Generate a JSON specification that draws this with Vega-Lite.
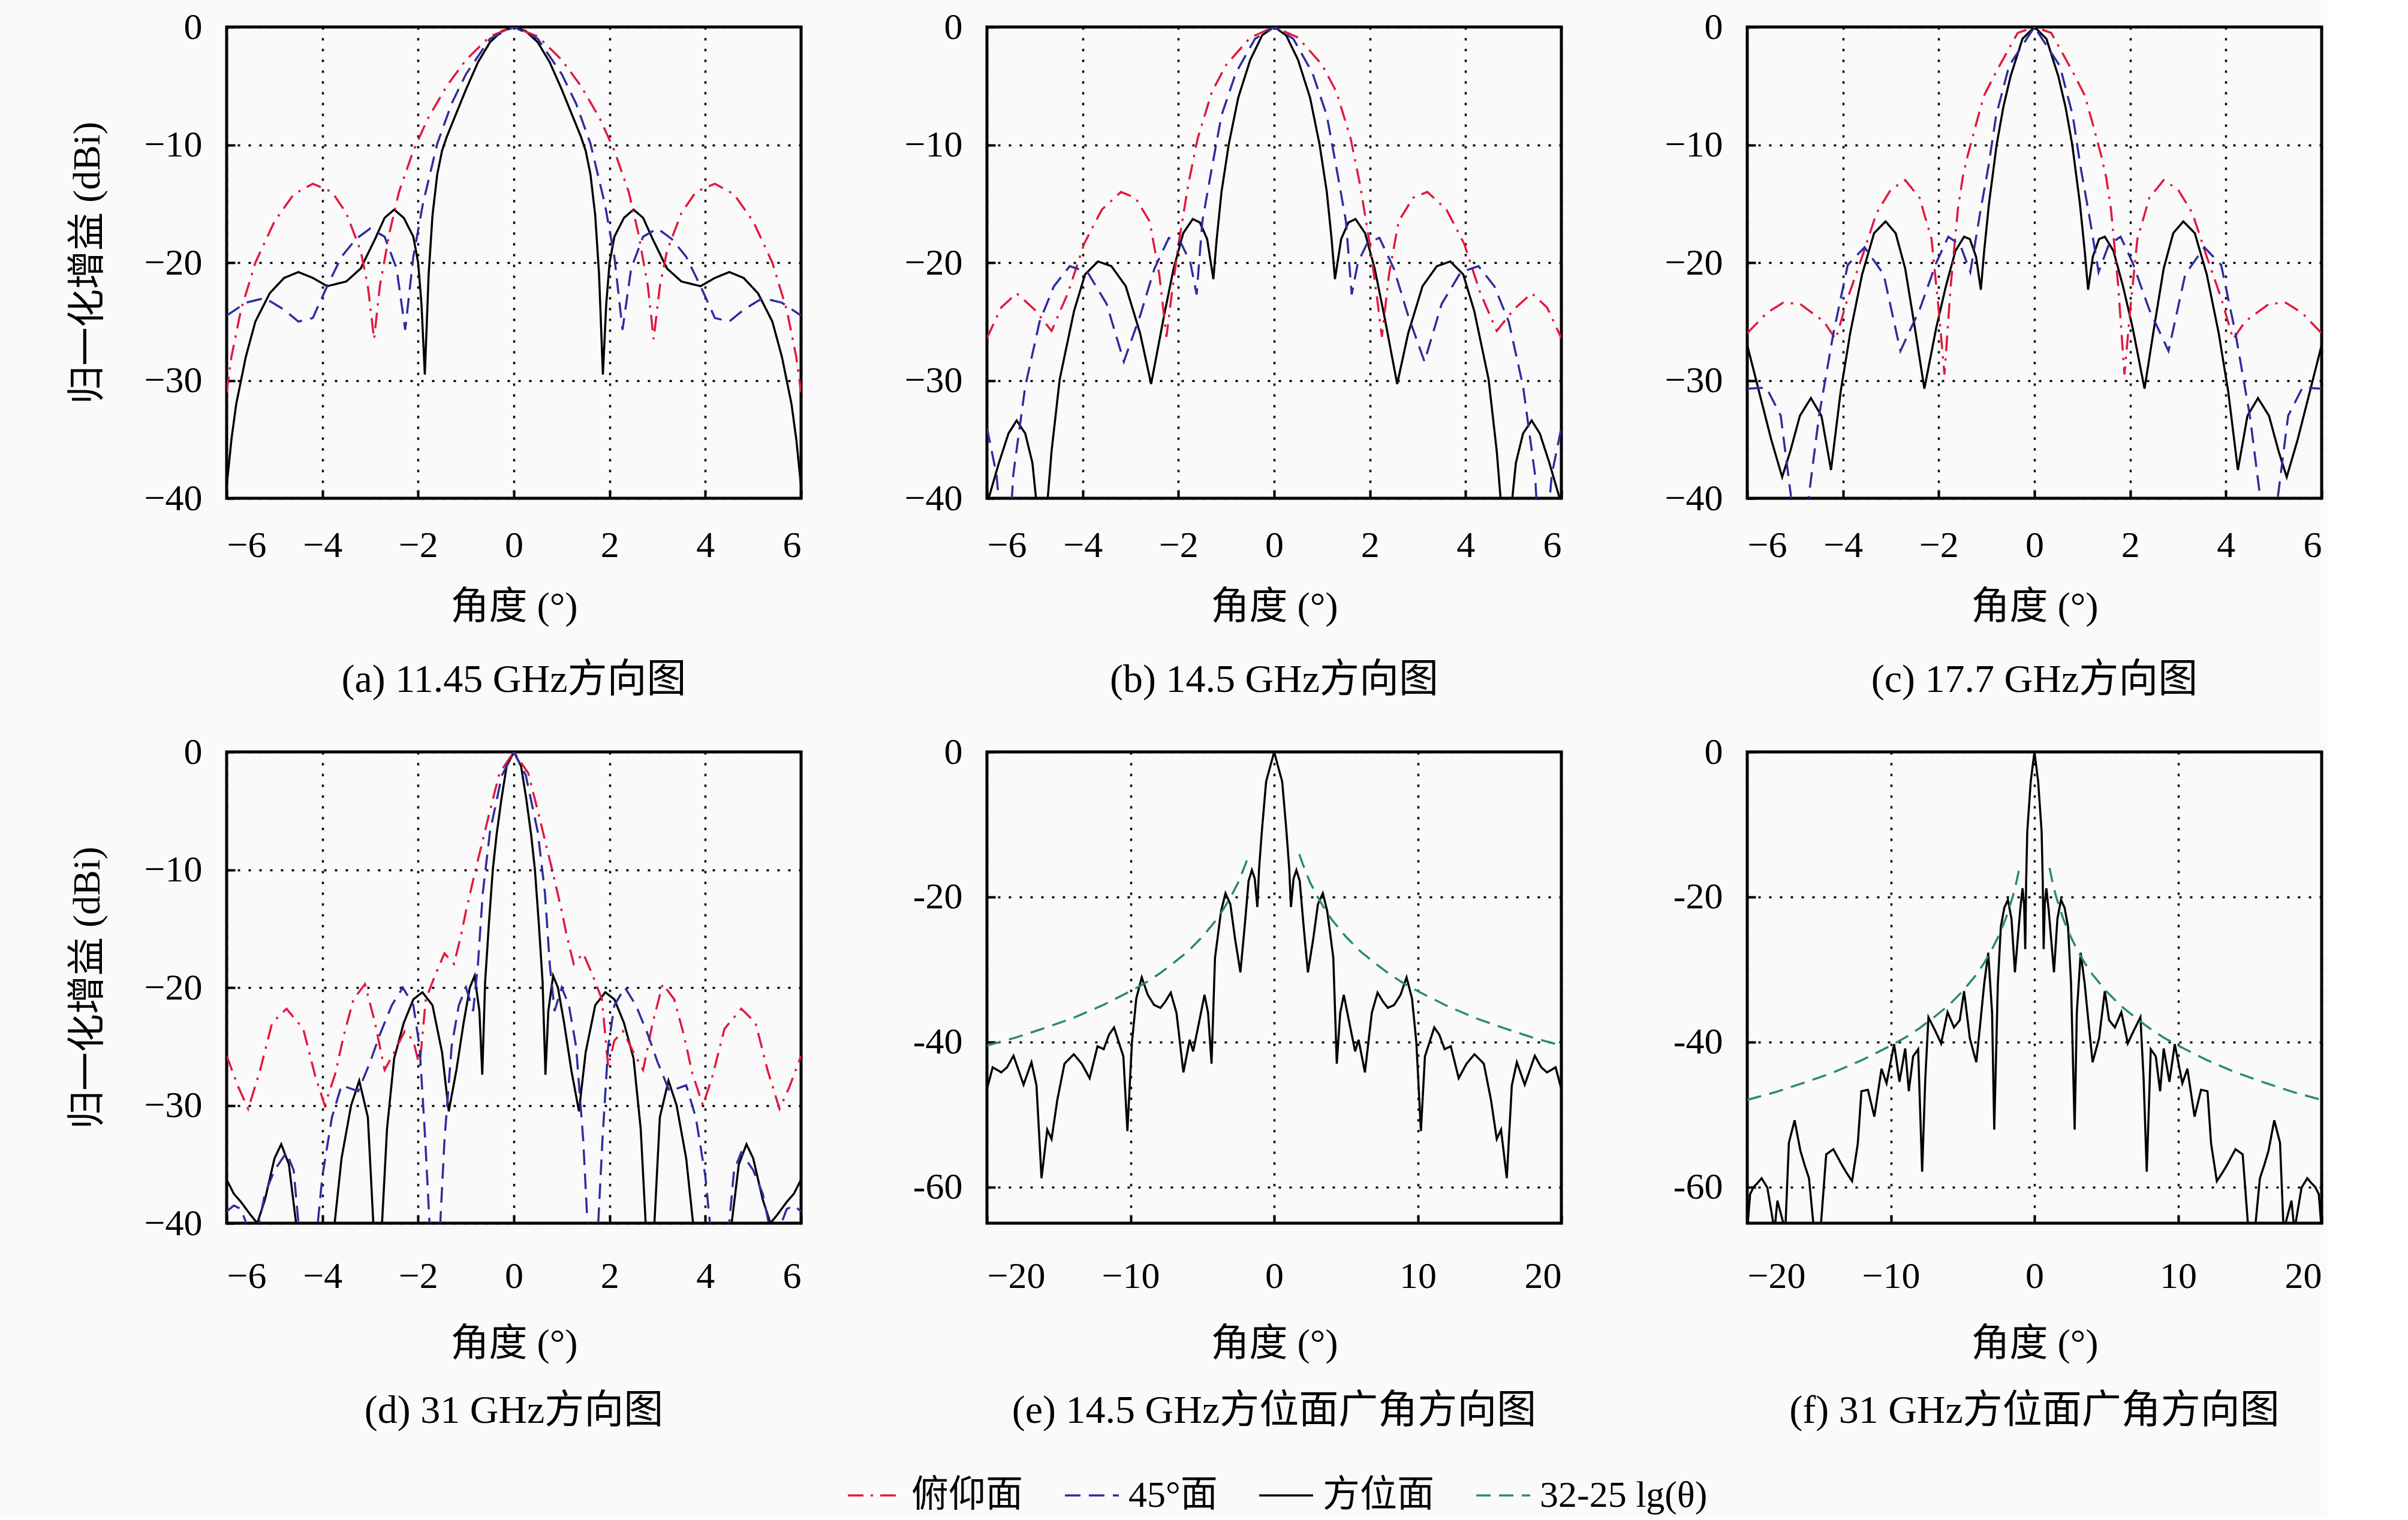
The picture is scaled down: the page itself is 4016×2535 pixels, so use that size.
{
"$schema":"https://vega.github.io/schema/vega-lite/v6.json",
"background":"#fafafa",
"padding":{"left":111,"top":11,"right":5,"bottom":5},
"datasets":{
"a":[
{"s":"方位面","x":0,"y":0},
{"s":"方位面","x":0.25,"y":-0.35},{"s":"方位面","x":-0.25,"y":-0.35},
{"s":"方位面","x":0.5,"y":-1.3},{"s":"方位面","x":-0.5,"y":-1.3},
{"s":"方位面","x":0.75,"y":-3},{"s":"方位面","x":-0.75,"y":-3},
{"s":"方位面","x":1,"y":-5.3},{"s":"方位面","x":-1,"y":-5.3},
{"s":"方位面","x":1.25,"y":-7.8},{"s":"方位面","x":-1.25,"y":-7.8},
{"s":"方位面","x":1.4,"y":-9.3},{"s":"方位面","x":-1.4,"y":-9.3},
{"s":"方位面","x":1.5,"y":-10.5},{"s":"方位面","x":-1.5,"y":-10.5},
{"s":"方位面","x":1.6,"y":-12.5},{"s":"方位面","x":-1.6,"y":-12.5},
{"s":"方位面","x":1.7,"y":-16},{"s":"方位面","x":-1.7,"y":-16},
{"s":"方位面","x":1.78,"y":-21},{"s":"方位面","x":-1.78,"y":-21},
{"s":"方位面","x":1.86,"y":-29.5},{"s":"方位面","x":-1.86,"y":-29.5},
{"s":"方位面","x":1.93,"y":-23.5},{"s":"方位面","x":-1.93,"y":-23.5},
{"s":"方位面","x":2,"y":-20},{"s":"方位面","x":-2,"y":-20},
{"s":"方位面","x":2.1,"y":-17.8},{"s":"方位面","x":-2.1,"y":-17.8},
{"s":"方位面","x":2.3,"y":-16.2},{"s":"方位面","x":-2.3,"y":-16.2},
{"s":"方位面","x":2.5,"y":-15.5},{"s":"方位面","x":-2.5,"y":-15.5},
{"s":"方位面","x":2.7,"y":-16.2},{"s":"方位面","x":-2.7,"y":-16.2},
{"s":"方位面","x":2.9,"y":-18},{"s":"方位面","x":-2.9,"y":-18},
{"s":"方位面","x":3.2,"y":-20.5},{"s":"方位面","x":-3.2,"y":-20.5},
{"s":"方位面","x":3.5,"y":-21.6},{"s":"方位面","x":-3.5,"y":-21.6},
{"s":"方位面","x":3.9,"y":-22},{"s":"方位面","x":-3.9,"y":-22},
{"s":"方位面","x":4.2,"y":-21.3},{"s":"方位面","x":-4.2,"y":-21.3},
{"s":"方位面","x":4.5,"y":-20.8},{"s":"方位面","x":-4.5,"y":-20.8},
{"s":"方位面","x":4.8,"y":-21.3},{"s":"方位面","x":-4.8,"y":-21.3},
{"s":"方位面","x":5.1,"y":-22.6},{"s":"方位面","x":-5.1,"y":-22.6},
{"s":"方位面","x":5.4,"y":-25},{"s":"方位面","x":-5.4,"y":-25},
{"s":"方位面","x":5.6,"y":-28},{"s":"方位面","x":-5.6,"y":-28},
{"s":"方位面","x":5.8,"y":-32},{"s":"方位面","x":-5.8,"y":-32},
{"s":"方位面","x":5.9,"y":-35},{"s":"方位面","x":-5.9,"y":-35},
{"s":"方位面","x":6,"y":-39},{"s":"方位面","x":-6,"y":-39},
{"s":"俯仰面","x":0,"y":0},
{"s":"俯仰面","x":0.5,"y":-0.8},{"s":"俯仰面","x":-0.5,"y":-0.8},
{"s":"俯仰面","x":1,"y":-2.8},{"s":"俯仰面","x":-1,"y":-2.8},
{"s":"俯仰面","x":1.4,"y":-5},{"s":"俯仰面","x":-1.4,"y":-5},
{"s":"俯仰面","x":1.8,"y":-7.8},{"s":"俯仰面","x":-1.8,"y":-7.8},
{"s":"俯仰面","x":2.1,"y":-10.5},{"s":"俯仰面","x":-2.1,"y":-10.5},
{"s":"俯仰面","x":2.4,"y":-14},{"s":"俯仰面","x":-2.4,"y":-14},
{"s":"俯仰面","x":2.6,"y":-17.5},{"s":"俯仰面","x":-2.6,"y":-17.5},
{"s":"俯仰面","x":2.8,"y":-22},{"s":"俯仰面","x":-2.8,"y":-22},
{"s":"俯仰面","x":2.92,"y":-26.5},{"s":"俯仰面","x":-2.92,"y":-26.5},
{"s":"俯仰面","x":3.05,"y":-22},{"s":"俯仰面","x":-3.05,"y":-22},
{"s":"俯仰面","x":3.2,"y":-19},{"s":"俯仰面","x":-3.2,"y":-19},
{"s":"俯仰面","x":3.5,"y":-15.8},{"s":"俯仰面","x":-3.5,"y":-15.8},
{"s":"俯仰面","x":3.8,"y":-14},{"s":"俯仰面","x":-3.8,"y":-14},
{"s":"俯仰面","x":4.2,"y":-13.3},{"s":"俯仰面","x":-4.2,"y":-13.3},
{"s":"俯仰面","x":4.6,"y":-14.2},{"s":"俯仰面","x":-4.6,"y":-14.2},
{"s":"俯仰面","x":5,"y":-16.5},{"s":"俯仰面","x":-5,"y":-16.5},
{"s":"俯仰面","x":5.4,"y":-20},{"s":"俯仰面","x":-5.4,"y":-20},
{"s":"俯仰面","x":5.7,"y":-24},{"s":"俯仰面","x":-5.7,"y":-24},
{"s":"俯仰面","x":5.9,"y":-28},{"s":"俯仰面","x":-5.9,"y":-28},
{"s":"俯仰面","x":6,"y":-31},{"s":"俯仰面","x":-6,"y":-31},
{"s":"45°面","x":0,"y":0},
{"s":"45°面","x":0.5,"y":-1},{"s":"45°面","x":-0.5,"y":-1},
{"s":"45°面","x":1,"y":-4},{"s":"45°面","x":-1,"y":-4},
{"s":"45°面","x":1.3,"y":-6.5},{"s":"45°面","x":-1.3,"y":-6.5},
{"s":"45°面","x":1.6,"y":-9.9},{"s":"45°面","x":-1.6,"y":-9.9},
{"s":"45°面","x":1.9,"y":-15},{"s":"45°面","x":-1.9,"y":-15},
{"s":"45°面","x":2.1,"y":-19.5},{"s":"45°面","x":-2.1,"y":-19.5},
{"s":"45°面","x":2.27,"y":-25.7},{"s":"45°面","x":-2.27,"y":-25.7},
{"s":"45°面","x":2.45,"y":-20.5},{"s":"45°面","x":-2.45,"y":-20.5},
{"s":"45°面","x":2.7,"y":-17.8},{"s":"45°面","x":-2.7,"y":-17.8},
{"s":"45°面","x":3,"y":-17.1},{"s":"45°面","x":-3,"y":-17.1},
{"s":"45°面","x":3.3,"y":-18},{"s":"45°面","x":-3.3,"y":-18},
{"s":"45°面","x":3.6,"y":-19.5},{"s":"45°面","x":-3.6,"y":-19.5},
{"s":"45°面","x":3.9,"y":-22},{"s":"45°面","x":-3.9,"y":-22},
{"s":"45°面","x":4.2,"y":-24.7},{"s":"45°面","x":-4.2,"y":-24.7},
{"s":"45°面","x":4.5,"y":-25},{"s":"45°面","x":-4.5,"y":-25},
{"s":"45°面","x":4.8,"y":-24},{"s":"45°面","x":-4.8,"y":-24},
{"s":"45°面","x":5.2,"y":-23},{"s":"45°面","x":-5.2,"y":-23},
{"s":"45°面","x":5.6,"y":-23.4},{"s":"45°面","x":-5.6,"y":-23.4},
{"s":"45°面","x":6,"y":-24.5},{"s":"45°面","x":-6,"y":-24.5}
],
"b":[
{"s":"方位面","x":0,"y":0},
{"s":"方位面","x":0.25,"y":-0.7},{"s":"方位面","x":-0.25,"y":-0.7},
{"s":"方位面","x":0.5,"y":-2.8},{"s":"方位面","x":-0.5,"y":-2.8},
{"s":"方位面","x":0.75,"y":-6},{"s":"方位面","x":-0.75,"y":-6},
{"s":"方位面","x":0.95,"y":-10},{"s":"方位面","x":-0.95,"y":-10},
{"s":"方位面","x":1.1,"y":-14},{"s":"方位面","x":-1.1,"y":-14},
{"s":"方位面","x":1.2,"y":-18},{"s":"方位面","x":-1.2,"y":-18},
{"s":"方位面","x":1.27,"y":-21.4},{"s":"方位面","x":-1.27,"y":-21.4},
{"s":"方位面","x":1.4,"y":-18},{"s":"方位面","x":-1.4,"y":-18},
{"s":"方位面","x":1.55,"y":-16.6},{"s":"方位面","x":-1.55,"y":-16.6},
{"s":"方位面","x":1.7,"y":-16.3},{"s":"方位面","x":-1.7,"y":-16.3},
{"s":"方位面","x":1.9,"y":-17.5},{"s":"方位面","x":-1.9,"y":-17.5},
{"s":"方位面","x":2.1,"y":-20.5},{"s":"方位面","x":-2.1,"y":-20.5},
{"s":"方位面","x":2.3,"y":-24.5},{"s":"方位面","x":-2.3,"y":-24.5},
{"s":"方位面","x":2.57,"y":-30.3},{"s":"方位面","x":-2.57,"y":-30.3},
{"s":"方位面","x":2.8,"y":-26},{"s":"方位面","x":-2.8,"y":-26},
{"s":"方位面","x":3.1,"y":-22},{"s":"方位面","x":-3.1,"y":-22},
{"s":"方位面","x":3.4,"y":-20.3},{"s":"方位面","x":-3.4,"y":-20.3},
{"s":"方位面","x":3.68,"y":-19.9},{"s":"方位面","x":-3.68,"y":-19.9},
{"s":"方位面","x":3.95,"y":-21},{"s":"方位面","x":-3.95,"y":-21},
{"s":"方位面","x":4.18,"y":-24.1},{"s":"方位面","x":-4.18,"y":-24.1},
{"s":"方位面","x":4.48,"y":-29.9},{"s":"方位面","x":-4.48,"y":-29.9},
{"s":"方位面","x":4.65,"y":-36},{"s":"方位面","x":-4.65,"y":-36},
{"s":"方位面","x":4.75,"y":-41},{"s":"方位面","x":-4.75,"y":-41},
{"s":"方位面","x":4.82,"y":-46},{"s":"方位面","x":-4.82,"y":-46},
{"s":"方位面","x":4.88,"y":-46},{"s":"方位面","x":-4.88,"y":-46},
{"s":"方位面","x":4.95,"y":-41},{"s":"方位面","x":-4.95,"y":-41},
{"s":"方位面","x":5.05,"y":-37},{"s":"方位面","x":-5.05,"y":-37},
{"s":"方位面","x":5.2,"y":-34.5},{"s":"方位面","x":-5.2,"y":-34.5},
{"s":"方位面","x":5.38,"y":-33.4},{"s":"方位面","x":-5.38,"y":-33.4},
{"s":"方位面","x":5.55,"y":-34.5},{"s":"方位面","x":-5.55,"y":-34.5},
{"s":"方位面","x":5.75,"y":-37},{"s":"方位面","x":-5.75,"y":-37},
{"s":"方位面","x":6,"y":-40.5},{"s":"方位面","x":-6,"y":-40.5},
{"s":"俯仰面","x":0,"y":0},
{"s":"俯仰面","x":0.5,"y":-0.9},{"s":"俯仰面","x":-0.5,"y":-0.9},
{"s":"俯仰面","x":1,"y":-3.2},{"s":"俯仰面","x":-1,"y":-3.2},
{"s":"俯仰面","x":1.3,"y":-5.5},{"s":"俯仰面","x":-1.3,"y":-5.5},
{"s":"俯仰面","x":1.6,"y":-9.5},{"s":"俯仰面","x":-1.6,"y":-9.5},
{"s":"俯仰面","x":1.8,"y":-13.5},{"s":"俯仰面","x":-1.8,"y":-13.5},
{"s":"俯仰面","x":2,"y":-18.5},{"s":"俯仰面","x":-2,"y":-18.5},
{"s":"俯仰面","x":2.15,"y":-23},{"s":"俯仰面","x":-2.15,"y":-23},
{"s":"俯仰面","x":2.25,"y":-26.3},{"s":"俯仰面","x":-2.25,"y":-26.3},
{"s":"俯仰面","x":2.4,"y":-21},{"s":"俯仰面","x":-2.4,"y":-21},
{"s":"俯仰面","x":2.6,"y":-16.5},{"s":"俯仰面","x":-2.6,"y":-16.5},
{"s":"俯仰面","x":2.9,"y":-14.5},{"s":"俯仰面","x":-2.9,"y":-14.5},
{"s":"俯仰面","x":3.2,"y":-14},{"s":"俯仰面","x":-3.2,"y":-14},
{"s":"俯仰面","x":3.6,"y":-15.5},{"s":"俯仰面","x":-3.6,"y":-15.5},
{"s":"俯仰面","x":3.97,"y":-18.4},{"s":"俯仰面","x":-3.97,"y":-18.4},
{"s":"俯仰面","x":4.3,"y":-22.5},{"s":"俯仰面","x":-4.3,"y":-22.5},
{"s":"俯仰面","x":4.65,"y":-25.8},{"s":"俯仰面","x":-4.65,"y":-25.8},
{"s":"俯仰面","x":5,"y":-24},{"s":"俯仰面","x":-5,"y":-24},
{"s":"俯仰面","x":5.38,"y":-22.6},{"s":"俯仰面","x":-5.38,"y":-22.6},
{"s":"俯仰面","x":5.7,"y":-23.8},{"s":"俯仰面","x":-5.7,"y":-23.8},
{"s":"俯仰面","x":6,"y":-26.4},{"s":"俯仰面","x":-6,"y":-26.4},
{"s":"45°面","x":0,"y":0},
{"s":"45°面","x":0.4,"y":-1},{"s":"45°面","x":-0.4,"y":-1},
{"s":"45°面","x":0.8,"y":-3.9},{"s":"45°面","x":-0.8,"y":-3.9},
{"s":"45°面","x":1.1,"y":-7.5},{"s":"45°面","x":-1.1,"y":-7.5},
{"s":"45°面","x":1.33,"y":-12.6},{"s":"45°面","x":-1.33,"y":-12.6},
{"s":"45°面","x":1.5,"y":-16.5},{"s":"45°面","x":-1.5,"y":-16.5},
{"s":"45°面","x":1.62,"y":-22.7},{"s":"45°面","x":-1.62,"y":-22.7},
{"s":"45°面","x":1.75,"y":-20},{"s":"45°面","x":-1.75,"y":-20},
{"s":"45°面","x":1.95,"y":-18.3},{"s":"45°面","x":-1.95,"y":-18.3},
{"s":"45°面","x":2.2,"y":-17.9},{"s":"45°面","x":-2.2,"y":-17.9},
{"s":"45°面","x":2.5,"y":-20.5},{"s":"45°面","x":-2.5,"y":-20.5},
{"s":"45°面","x":2.8,"y":-24.5},{"s":"45°面","x":-2.8,"y":-24.5},
{"s":"45°面","x":3.14,"y":-28.4},{"s":"45°面","x":-3.14,"y":-28.4},
{"s":"45°面","x":3.5,"y":-23.5},{"s":"45°面","x":-3.5,"y":-23.5},
{"s":"45°面","x":3.9,"y":-20.8},{"s":"45°面","x":-3.9,"y":-20.8},
{"s":"45°面","x":4.27,"y":-20.3},{"s":"45°面","x":-4.27,"y":-20.3},
{"s":"45°面","x":4.6,"y":-22},{"s":"45°面","x":-4.6,"y":-22},
{"s":"45°面","x":4.9,"y":-25},{"s":"45°面","x":-4.9,"y":-25},
{"s":"45°面","x":5.2,"y":-30.5},{"s":"45°面","x":-5.2,"y":-30.5},
{"s":"45°面","x":5.45,"y":-38},{"s":"45°面","x":-5.45,"y":-38},
{"s":"45°面","x":5.55,"y":-45},{"s":"45°面","x":-5.55,"y":-45},
{"s":"45°面","x":5.65,"y":-45},{"s":"45°面","x":-5.65,"y":-45},
{"s":"45°面","x":5.8,"y":-38},{"s":"45°面","x":-5.8,"y":-38},
{"s":"45°面","x":6,"y":-34},{"s":"45°面","x":-6,"y":-34}
],
"c":[
{"s":"方位面","x":0,"y":0},
{"s":"方位面","x":0.25,"y":-1},{"s":"方位面","x":-0.25,"y":-1},
{"s":"方位面","x":0.5,"y":-4.2},{"s":"方位面","x":-0.5,"y":-4.2},
{"s":"方位面","x":0.65,"y":-6.8},{"s":"方位面","x":-0.65,"y":-6.8},
{"s":"方位面","x":0.79,"y":-10},{"s":"方位面","x":-0.79,"y":-10},
{"s":"方位面","x":0.95,"y":-15},{"s":"方位面","x":-0.95,"y":-15},
{"s":"方位面","x":1.05,"y":-19},{"s":"方位面","x":-1.05,"y":-19},
{"s":"方位面","x":1.12,"y":-22.3},{"s":"方位面","x":-1.12,"y":-22.3},
{"s":"方位面","x":1.22,"y":-19.5},{"s":"方位面","x":-1.22,"y":-19.5},
{"s":"方位面","x":1.35,"y":-18},{"s":"方位面","x":-1.35,"y":-18},
{"s":"方位面","x":1.47,"y":-17.8},{"s":"方位面","x":-1.47,"y":-17.8},
{"s":"方位面","x":1.65,"y":-19},{"s":"方位面","x":-1.65,"y":-19},
{"s":"方位面","x":1.85,"y":-22},{"s":"方位面","x":-1.85,"y":-22},
{"s":"方位面","x":2.05,"y":-25.5},{"s":"方位面","x":-2.05,"y":-25.5},
{"s":"方位面","x":2.3,"y":-30.7},{"s":"方位面","x":-2.3,"y":-30.7},
{"s":"方位面","x":2.5,"y":-25.5},{"s":"方位面","x":-2.5,"y":-25.5},
{"s":"方位面","x":2.7,"y":-20.5},{"s":"方位面","x":-2.7,"y":-20.5},
{"s":"方位面","x":2.9,"y":-17.5},{"s":"方位面","x":-2.9,"y":-17.5},
{"s":"方位面","x":3.11,"y":-16.5},{"s":"方位面","x":-3.11,"y":-16.5},
{"s":"方位面","x":3.35,"y":-17.5},{"s":"方位面","x":-3.35,"y":-17.5},
{"s":"方位面","x":3.6,"y":-21},{"s":"方位面","x":-3.6,"y":-21},
{"s":"方位面","x":3.85,"y":-26},{"s":"方位面","x":-3.85,"y":-26},
{"s":"方位面","x":4.05,"y":-31},{"s":"方位面","x":-4.05,"y":-31},
{"s":"方位面","x":4.25,"y":-37.6},{"s":"方位面","x":-4.25,"y":-37.6},
{"s":"方位面","x":4.45,"y":-33},{"s":"方位面","x":-4.45,"y":-33},
{"s":"方位面","x":4.67,"y":-31.5},{"s":"方位面","x":-4.67,"y":-31.5},
{"s":"方位面","x":4.9,"y":-33},{"s":"方位面","x":-4.9,"y":-33},
{"s":"方位面","x":5.1,"y":-36},{"s":"方位面","x":-5.1,"y":-36},
{"s":"方位面","x":5.27,"y":-38.2},{"s":"方位面","x":-5.27,"y":-38.2},
{"s":"方位面","x":5.5,"y":-35},{"s":"方位面","x":-5.5,"y":-35},
{"s":"方位面","x":5.75,"y":-31},{"s":"方位面","x":-5.75,"y":-31},
{"s":"方位面","x":6,"y":-27},{"s":"方位面","x":-6,"y":-27},
{"s":"俯仰面","x":0,"y":0},
{"s":"俯仰面","x":0.35,"y":-0.5},{"s":"俯仰面","x":-0.35,"y":-0.5},
{"s":"俯仰面","x":0.8,"y":-3.8},{"s":"俯仰面","x":-0.8,"y":-3.8},
{"s":"俯仰面","x":1.05,"y":-5.8},{"s":"俯仰面","x":-1.05,"y":-5.8},
{"s":"俯仰面","x":1.23,"y":-8.4},{"s":"俯仰面","x":-1.23,"y":-8.4},
{"s":"俯仰面","x":1.4,"y":-11},{"s":"俯仰面","x":-1.4,"y":-11},
{"s":"俯仰面","x":1.5,"y":-12.8},{"s":"俯仰面","x":-1.5,"y":-12.8},
{"s":"俯仰面","x":1.6,"y":-15.5},{"s":"俯仰面","x":-1.6,"y":-15.5},
{"s":"俯仰面","x":1.75,"y":-22},{"s":"俯仰面","x":-1.75,"y":-22},
{"s":"俯仰面","x":1.88,"y":-29.5},{"s":"俯仰面","x":-1.88,"y":-29.5},
{"s":"俯仰面","x":2,"y":-24},{"s":"俯仰面","x":-2,"y":-24},
{"s":"俯仰面","x":2.15,"y":-18},{"s":"俯仰面","x":-2.15,"y":-18},
{"s":"俯仰面","x":2.4,"y":-14.5},{"s":"俯仰面","x":-2.4,"y":-14.5},
{"s":"俯仰面","x":2.7,"y":-13},{"s":"俯仰面","x":-2.7,"y":-13},
{"s":"俯仰面","x":3,"y":-13.8},{"s":"俯仰面","x":-3,"y":-13.8},
{"s":"俯仰面","x":3.3,"y":-15.8},{"s":"俯仰面","x":-3.3,"y":-15.8},
{"s":"俯仰面","x":3.6,"y":-19.5},{"s":"俯仰面","x":-3.6,"y":-19.5},
{"s":"俯仰面","x":3.9,"y":-23},{"s":"俯仰面","x":-3.9,"y":-23},
{"s":"俯仰面","x":4.15,"y":-26.5},{"s":"俯仰面","x":-4.15,"y":-26.5},
{"s":"俯仰面","x":4.4,"y":-25},{"s":"俯仰面","x":-4.4,"y":-25},
{"s":"俯仰面","x":4.9,"y":-23.5},{"s":"俯仰面","x":-4.9,"y":-23.5},
{"s":"俯仰面","x":5.25,"y":-23.4},{"s":"俯仰面","x":-5.25,"y":-23.4},
{"s":"俯仰面","x":5.6,"y":-24.3},{"s":"俯仰面","x":-5.6,"y":-24.3},
{"s":"俯仰面","x":6,"y":-26},{"s":"俯仰面","x":-6,"y":-26},
{"s":"45°面","x":0,"y":0},
{"s":"45°面","x":0.53,"y":-3.3},{"s":"45°面","x":-0.53,"y":-3.3},
{"s":"45°面","x":0.8,"y":-7.5},{"s":"45°面","x":-0.8,"y":-7.5},
{"s":"45°面","x":0.96,"y":-11.8},{"s":"45°面","x":-0.96,"y":-11.8},
{"s":"45°面","x":1.14,"y":-15.9},{"s":"45°面","x":-1.14,"y":-15.9},
{"s":"45°面","x":1.34,"y":-20.8},{"s":"45°面","x":-1.34,"y":-20.8},
{"s":"45°面","x":1.55,"y":-18.5},{"s":"45°面","x":-1.55,"y":-18.5},
{"s":"45°面","x":1.8,"y":-17.8},{"s":"45°面","x":-1.8,"y":-17.8},
{"s":"45°面","x":2.05,"y":-20},{"s":"45°面","x":-2.05,"y":-20},
{"s":"45°面","x":2.4,"y":-24},{"s":"45°面","x":-2.4,"y":-24},
{"s":"45°面","x":2.8,"y":-27.5},{"s":"45°面","x":-2.8,"y":-27.5},
{"s":"45°面","x":3.15,"y":-21},{"s":"45°面","x":-3.15,"y":-21},
{"s":"45°面","x":3.55,"y":-18.7},{"s":"45°面","x":-3.55,"y":-18.7},
{"s":"45°面","x":3.9,"y":-20.2},{"s":"45°面","x":-3.9,"y":-20.2},
{"s":"45°面","x":4.2,"y":-26},{"s":"45°面","x":-4.2,"y":-26},
{"s":"45°面","x":4.5,"y":-33},{"s":"45°面","x":-4.5,"y":-33},
{"s":"45°面","x":4.75,"y":-41},{"s":"45°面","x":-4.75,"y":-41},
{"s":"45°面","x":4.9,"y":-45},{"s":"45°面","x":-4.9,"y":-45},
{"s":"45°面","x":5.05,"y":-41},{"s":"45°面","x":-5.05,"y":-41},
{"s":"45°面","x":5.3,"y":-33},{"s":"45°面","x":-5.3,"y":-33},
{"s":"45°面","x":5.6,"y":-30.6},{"s":"45°面","x":-5.6,"y":-30.6},
{"s":"45°面","x":6,"y":-30.7},{"s":"45°面","x":-6,"y":-30.7}
],
"d":[
{"s":"方位面","x":0,"y":0},
{"s":"方位面","x":0.15,"y":-1.2},{"s":"方位面","x":-0.15,"y":-1.2},
{"s":"方位面","x":0.26,"y":-4},{"s":"方位面","x":-0.26,"y":-4},
{"s":"方位面","x":0.36,"y":-7},{"s":"方位面","x":-0.36,"y":-7},
{"s":"方位面","x":0.44,"y":-10},{"s":"方位面","x":-0.44,"y":-10},
{"s":"方位面","x":0.52,"y":-14.5},{"s":"方位面","x":-0.52,"y":-14.5},
{"s":"方位面","x":0.6,"y":-19.5},{"s":"方位面","x":-0.6,"y":-19.5},
{"s":"方位面","x":0.66,"y":-27.4},{"s":"方位面","x":-0.66,"y":-27.4},
{"s":"方位面","x":0.72,"y":-22},{"s":"方位面","x":-0.72,"y":-22},
{"s":"方位面","x":0.82,"y":-19},{"s":"方位面","x":-0.82,"y":-19},
{"s":"方位面","x":0.92,"y":-20},{"s":"方位面","x":-0.92,"y":-20},
{"s":"方位面","x":1.05,"y":-23},{"s":"方位面","x":-1.05,"y":-23},
{"s":"方位面","x":1.2,"y":-27},{"s":"方位面","x":-1.2,"y":-27},
{"s":"方位面","x":1.36,"y":-30.5},{"s":"方位面","x":-1.36,"y":-30.5},
{"s":"方位面","x":1.5,"y":-25.5},{"s":"方位面","x":-1.5,"y":-25.5},
{"s":"方位面","x":1.7,"y":-21.5},{"s":"方位面","x":-1.7,"y":-21.5},
{"s":"方位面","x":1.91,"y":-20.4},{"s":"方位面","x":-1.91,"y":-20.4},
{"s":"方位面","x":2.1,"y":-21},{"s":"方位面","x":-2.1,"y":-21},
{"s":"方位面","x":2.3,"y":-23},{"s":"方位面","x":-2.3,"y":-23},
{"s":"方位面","x":2.5,"y":-26},{"s":"方位面","x":-2.5,"y":-26},
{"s":"方位面","x":2.65,"y":-32},{"s":"方位面","x":-2.65,"y":-32},
{"s":"方位面","x":2.76,"y":-40.5},{"s":"方位面","x":-2.76,"y":-40.5},
{"s":"方位面","x":2.85,"y":-46},{"s":"方位面","x":-2.85,"y":-46},
{"s":"方位面","x":2.93,"y":-40.5},{"s":"方位面","x":-2.93,"y":-40.5},
{"s":"方位面","x":3.05,"y":-31},{"s":"方位面","x":-3.05,"y":-31},
{"s":"方位面","x":3.23,"y":-27.9},{"s":"方位面","x":-3.23,"y":-27.9},
{"s":"方位面","x":3.4,"y":-30},{"s":"方位面","x":-3.4,"y":-30},
{"s":"方位面","x":3.6,"y":-34.5},{"s":"方位面","x":-3.6,"y":-34.5},
{"s":"方位面","x":3.77,"y":-41},{"s":"方位面","x":-3.77,"y":-41},
{"s":"方位面","x":3.95,"y":-46},{"s":"方位面","x":-3.95,"y":-46},
{"s":"方位面","x":4.35,"y":-46},{"s":"方位面","x":-4.35,"y":-46},
{"s":"方位面","x":4.52,"y":-41},{"s":"方位面","x":-4.52,"y":-41},
{"s":"方位面","x":4.7,"y":-35},{"s":"方位面","x":-4.7,"y":-35},
{"s":"方位面","x":4.86,"y":-33.3},{"s":"方位面","x":-4.86,"y":-33.3},
{"s":"方位面","x":5,"y":-34.5},{"s":"方位面","x":-5,"y":-34.5},
{"s":"方位面","x":5.2,"y":-38},{"s":"方位面","x":-5.2,"y":-38},
{"s":"方位面","x":5.36,"y":-40},{"s":"方位面","x":-5.36,"y":-40},
{"s":"方位面","x":5.5,"y":-39.3},{"s":"方位面","x":-5.5,"y":-39.3},
{"s":"方位面","x":5.7,"y":-38.2},{"s":"方位面","x":-5.7,"y":-38.2},
{"s":"方位面","x":5.85,"y":-37.5},{"s":"方位面","x":-5.85,"y":-37.5},
{"s":"方位面","x":6,"y":-36.3},{"s":"方位面","x":-6,"y":-36.3},
{"s":"俯仰面","x":0,"y":0},
{"s":"俯仰面","x":0.3,"y":-1.8},{"s":"俯仰面","x":-0.3,"y":-1.8},
{"s":"俯仰面","x":0.5,"y":-5},{"s":"俯仰面","x":-0.5,"y":-5},
{"s":"俯仰面","x":0.8,"y":-10},{"s":"俯仰面","x":-0.8,"y":-10},
{"s":"俯仰面","x":1,"y":-13.5},{"s":"俯仰面","x":-1,"y":-13.5},
{"s":"俯仰面","x":1.1,"y":-15.5},{"s":"俯仰面","x":-1.1,"y":-15.5},
{"s":"俯仰面","x":1.25,"y":-18},{"s":"俯仰面","x":-1.25,"y":-18},
{"s":"俯仰面","x":1.45,"y":-17.1},{"s":"俯仰面","x":-1.45,"y":-17.1},
{"s":"俯仰面","x":1.65,"y":-19},{"s":"俯仰面","x":-1.65,"y":-19},
{"s":"俯仰面","x":1.84,"y":-21},{"s":"俯仰面","x":-1.84,"y":-21},
{"s":"俯仰面","x":1.97,"y":-26.7},{"s":"俯仰面","x":-1.97,"y":-26.7},
{"s":"俯仰面","x":2.1,"y":-24.5},{"s":"俯仰面","x":-2.1,"y":-24.5},
{"s":"俯仰面","x":2.28,"y":-23.7},{"s":"俯仰面","x":-2.28,"y":-23.7},
{"s":"俯仰面","x":2.5,"y":-25.5},{"s":"俯仰面","x":-2.5,"y":-25.5},
{"s":"俯仰面","x":2.7,"y":-27},{"s":"俯仰面","x":-2.7,"y":-27},
{"s":"俯仰面","x":2.9,"y":-23},{"s":"俯仰面","x":-2.9,"y":-23},
{"s":"俯仰面","x":3.11,"y":-19.7},{"s":"俯仰面","x":-3.11,"y":-19.7},
{"s":"俯仰面","x":3.35,"y":-21},{"s":"俯仰面","x":-3.35,"y":-21},
{"s":"俯仰面","x":3.55,"y":-24},{"s":"俯仰面","x":-3.55,"y":-24},
{"s":"俯仰面","x":3.73,"y":-27.3},{"s":"俯仰面","x":-3.73,"y":-27.3},
{"s":"俯仰面","x":3.95,"y":-30},{"s":"俯仰面","x":-3.95,"y":-30},
{"s":"俯仰面","x":4.15,"y":-27.5},{"s":"俯仰面","x":-4.15,"y":-27.5},
{"s":"俯仰面","x":4.4,"y":-23.5},{"s":"俯仰面","x":-4.4,"y":-23.5},
{"s":"俯仰面","x":4.75,"y":-21.8},{"s":"俯仰面","x":-4.75,"y":-21.8},
{"s":"俯仰面","x":5.05,"y":-23},{"s":"俯仰面","x":-5.05,"y":-23},
{"s":"俯仰面","x":5.3,"y":-27},{"s":"俯仰面","x":-5.3,"y":-27},
{"s":"俯仰面","x":5.55,"y":-30.3},{"s":"俯仰面","x":-5.55,"y":-30.3},
{"s":"俯仰面","x":5.75,"y":-28.5},{"s":"俯仰面","x":-5.75,"y":-28.5},
{"s":"俯仰面","x":6,"y":-25.8},{"s":"俯仰面","x":-6,"y":-25.8},
{"s":"45°面","x":0,"y":0},
{"s":"45°面","x":0.25,"y":-2},{"s":"45°面","x":-0.25,"y":-2},
{"s":"45°面","x":0.5,"y":-6.8},{"s":"45°面","x":-0.5,"y":-6.8},
{"s":"45°面","x":0.65,"y":-12},{"s":"45°面","x":-0.65,"y":-12},
{"s":"45°面","x":0.75,"y":-18},{"s":"45°面","x":-0.75,"y":-18},
{"s":"45°面","x":0.85,"y":-22},{"s":"45°面","x":-0.85,"y":-22},
{"s":"45°面","x":1,"y":-20},{"s":"45°面","x":-1,"y":-20},
{"s":"45°面","x":1.15,"y":-21.5},{"s":"45°面","x":-1.15,"y":-21.5},
{"s":"45°面","x":1.3,"y":-25},{"s":"45°面","x":-1.3,"y":-25},
{"s":"45°面","x":1.45,"y":-33},{"s":"45°面","x":-1.45,"y":-33},
{"s":"45°面","x":1.55,"y":-41},{"s":"45°面","x":-1.55,"y":-41},
{"s":"45°面","x":1.65,"y":-46},{"s":"45°面","x":-1.65,"y":-46},
{"s":"45°面","x":1.75,"y":-41},{"s":"45°面","x":-1.75,"y":-41},
{"s":"45°面","x":1.85,"y":-33},{"s":"45°面","x":-1.85,"y":-33},
{"s":"45°面","x":1.97,"y":-25},{"s":"45°面","x":-1.97,"y":-25},
{"s":"45°面","x":2.1,"y":-21.5},{"s":"45°面","x":-2.1,"y":-21.5},
{"s":"45°面","x":2.32,"y":-20},{"s":"45°面","x":-2.32,"y":-20},
{"s":"45°面","x":2.55,"y":-21.5},{"s":"45°面","x":-2.55,"y":-21.5},
{"s":"45°面","x":2.8,"y":-24},{"s":"45°面","x":-2.8,"y":-24},
{"s":"45°面","x":3,"y":-26.3},{"s":"45°面","x":-3,"y":-26.3},
{"s":"45°面","x":3.25,"y":-28.8},{"s":"45°面","x":-3.25,"y":-28.8},
{"s":"45°面","x":3.6,"y":-28.3},{"s":"45°面","x":-3.6,"y":-28.3},
{"s":"45°面","x":3.8,"y":-31},{"s":"45°面","x":-3.8,"y":-31},
{"s":"45°面","x":4,"y":-36},{"s":"45°面","x":-4,"y":-36},
{"s":"45°面","x":4.12,"y":-41},{"s":"45°面","x":-4.12,"y":-41},
{"s":"45°面","x":4.25,"y":-46},{"s":"45°面","x":-4.25,"y":-46},
{"s":"45°面","x":4.4,"y":-46},{"s":"45°面","x":-4.4,"y":-46},
{"s":"45°面","x":4.5,"y":-40},{"s":"45°面","x":-4.5,"y":-40},
{"s":"45°面","x":4.6,"y":-35.5},{"s":"45°面","x":-4.6,"y":-35.5},
{"s":"45°面","x":4.75,"y":-34},{"s":"45°面","x":-4.75,"y":-34},
{"s":"45°面","x":5,"y":-35.5},{"s":"45°面","x":-5,"y":-35.5},
{"s":"45°面","x":5.2,"y":-37.5},{"s":"45°面","x":-5.2,"y":-37.5},
{"s":"45°面","x":5.35,"y":-40.5},{"s":"45°面","x":-5.35,"y":-40.5},
{"s":"45°面","x":5.5,"y":-41},{"s":"45°面","x":-5.5,"y":-41},
{"s":"45°面","x":5.7,"y":-38.8},{"s":"45°面","x":-5.7,"y":-38.8},
{"s":"45°面","x":5.85,"y":-38.5},{"s":"45°面","x":-5.85,"y":-38.5},
{"s":"45°面","x":6,"y":-39},{"s":"45°面","x":-6,"y":-39}
],
"e":[
{"s":"方位面","x":0,"y":0},
{"s":"方位面","x":0.56,"y":-4.1},{"s":"方位面","x":-0.56,"y":-4.1},
{"s":"方位面","x":0.85,"y":-10.8},{"s":"方位面","x":-0.85,"y":-10.8},
{"s":"方位面","x":1.05,"y":-16.1},{"s":"方位面","x":-1.05,"y":-16.1},
{"s":"方位面","x":1.17,"y":-21.4},{"s":"方位面","x":-1.17,"y":-21.4},
{"s":"方位面","x":1.35,"y":-17.5},{"s":"方位面","x":-1.35,"y":-17.5},
{"s":"方位面","x":1.55,"y":-16.3},{"s":"方位面","x":-1.55,"y":-16.3},
{"s":"方位面","x":1.78,"y":-17.8},{"s":"方位面","x":-1.78,"y":-17.8},
{"s":"方位面","x":2.05,"y":-24},{"s":"方位面","x":-2.05,"y":-24},
{"s":"方位面","x":2.35,"y":-30.4},{"s":"方位面","x":-2.35,"y":-30.4},
{"s":"方位面","x":2.72,"y":-25.8},{"s":"方位面","x":-2.72,"y":-25.8},
{"s":"方位面","x":3.05,"y":-21},{"s":"方位面","x":-3.05,"y":-21},
{"s":"方位面","x":3.39,"y":-19.5},{"s":"方位面","x":-3.39,"y":-19.5},
{"s":"方位面","x":3.7,"y":-22},{"s":"方位面","x":-3.7,"y":-22},
{"s":"方位面","x":4.12,"y":-28.4},{"s":"方位面","x":-4.12,"y":-28.4},
{"s":"方位面","x":4.36,"y":-43},{"s":"方位面","x":-4.36,"y":-43},
{"s":"方位面","x":4.6,"y":-36},{"s":"方位面","x":-4.6,"y":-36},
{"s":"方位面","x":4.85,"y":-33.5},{"s":"方位面","x":-4.85,"y":-33.5},
{"s":"方位面","x":5.2,"y":-37},{"s":"方位面","x":-5.2,"y":-37},
{"s":"方位面","x":5.64,"y":-41.3},{"s":"方位面","x":-5.64,"y":-41.3},
{"s":"方位面","x":5.88,"y":-39.7},{"s":"方位面","x":-5.88,"y":-39.7},
{"s":"方位面","x":6.32,"y":-44.2},{"s":"方位面","x":-6.32,"y":-44.2},
{"s":"方位面","x":6.8,"y":-36},{"s":"方位面","x":-6.8,"y":-36},
{"s":"方位面","x":7.2,"y":-33.2},{"s":"方位面","x":-7.2,"y":-33.2},
{"s":"方位面","x":7.6,"y":-34.5},{"s":"方位面","x":-7.6,"y":-34.5},
{"s":"方位面","x":7.92,"y":-35.3},{"s":"方位面","x":-7.92,"y":-35.3},
{"s":"方位面","x":8.36,"y":-34.9},{"s":"方位面","x":-8.36,"y":-34.9},
{"s":"方位面","x":8.8,"y":-33.5},{"s":"方位面","x":-8.8,"y":-33.5},
{"s":"方位面","x":9.22,"y":-31.1},{"s":"方位面","x":-9.22,"y":-31.1},
{"s":"方位面","x":9.6,"y":-34},{"s":"方位面","x":-9.6,"y":-34},
{"s":"方位面","x":9.9,"y":-40},{"s":"方位面","x":-9.9,"y":-40},
{"s":"方位面","x":10.22,"y":-52.3},{"s":"方位面","x":-10.22,"y":-52.3},
{"s":"方位面","x":10.5,"y":-42},{"s":"方位面","x":-10.5,"y":-42},
{"s":"方位面","x":11.15,"y":-38},{"s":"方位面","x":-11.15,"y":-38},
{"s":"方位面","x":11.5,"y":-39},{"s":"方位面","x":-11.5,"y":-39},
{"s":"方位面","x":11.87,"y":-41},{"s":"方位面","x":-11.87,"y":-41},
{"s":"方位面","x":12.3,"y":-40.6},{"s":"方位面","x":-12.3,"y":-40.6},
{"s":"方位面","x":12.85,"y":-45},{"s":"方位面","x":-12.85,"y":-45},
{"s":"方位面","x":13.4,"y":-43},{"s":"方位面","x":-13.4,"y":-43},
{"s":"方位面","x":13.95,"y":-41.7},{"s":"方位面","x":-13.95,"y":-41.7},
{"s":"方位面","x":14.6,"y":-43},{"s":"方位面","x":-14.6,"y":-43},
{"s":"方位面","x":15.1,"y":-48},{"s":"方位面","x":-15.1,"y":-48},
{"s":"方位面","x":15.5,"y":-53.4},{"s":"方位面","x":-15.5,"y":-53.4},
{"s":"方位面","x":15.8,"y":-52.1},{"s":"方位面","x":-15.8,"y":-52.1},
{"s":"方位面","x":16.2,"y":-58.8},{"s":"方位面","x":-16.2,"y":-58.8},
{"s":"方位面","x":16.55,"y":-46},{"s":"方位面","x":-16.55,"y":-46},
{"s":"方位面","x":16.9,"y":-42.8},{"s":"方位面","x":-16.9,"y":-42.8},
{"s":"方位面","x":17.45,"y":-45.9},{"s":"方位面","x":-17.45,"y":-45.9},
{"s":"方位面","x":18.15,"y":-41.9},{"s":"方位面","x":-18.15,"y":-41.9},
{"s":"方位面","x":18.6,"y":-43.5},{"s":"方位面","x":-18.6,"y":-43.5},
{"s":"方位面","x":19,"y":-44.2},{"s":"方位面","x":-19,"y":-44.2},
{"s":"方位面","x":19.6,"y":-43.5},{"s":"方位面","x":-19.6,"y":-43.5},
{"s":"方位面","x":20,"y":-46.5},{"s":"方位面","x":-20,"y":-46.5},
{"s":"32-25 lg(θ)","k":"R","x":1.75,"y":-14.1},{"s":"32-25 lg(θ)","k":"L","x":-1.75,"y":-14.1},
{"s":"32-25 lg(θ)","k":"R","x":2,"y":-15.5},{"s":"32-25 lg(θ)","k":"L","x":-2,"y":-15.5},
{"s":"32-25 lg(θ)","k":"R","x":2.5,"y":-18},{"s":"32-25 lg(θ)","k":"L","x":-2.5,"y":-18},
{"s":"32-25 lg(θ)","k":"R","x":3,"y":-19.9},{"s":"32-25 lg(θ)","k":"L","x":-3,"y":-19.9},
{"s":"32-25 lg(θ)","k":"R","x":3.5,"y":-21.6},{"s":"32-25 lg(θ)","k":"L","x":-3.5,"y":-21.6},
{"s":"32-25 lg(θ)","k":"R","x":4,"y":-23.1},{"s":"32-25 lg(θ)","k":"L","x":-4,"y":-23.1},
{"s":"32-25 lg(θ)","k":"R","x":5,"y":-25.5},{"s":"32-25 lg(θ)","k":"L","x":-5,"y":-25.5},
{"s":"32-25 lg(θ)","k":"R","x":6,"y":-27.5},{"s":"32-25 lg(θ)","k":"L","x":-6,"y":-27.5},
{"s":"32-25 lg(θ)","k":"R","x":7,"y":-29.1},{"s":"32-25 lg(θ)","k":"L","x":-7,"y":-29.1},
{"s":"32-25 lg(θ)","k":"R","x":8,"y":-30.6},{"s":"32-25 lg(θ)","k":"L","x":-8,"y":-30.6},
{"s":"32-25 lg(θ)","k":"R","x":9,"y":-31.9},{"s":"32-25 lg(θ)","k":"L","x":-9,"y":-31.9},
{"s":"32-25 lg(θ)","k":"R","x":10,"y":-33},{"s":"32-25 lg(θ)","k":"L","x":-10,"y":-33},
{"s":"32-25 lg(θ)","k":"R","x":11,"y":-34},{"s":"32-25 lg(θ)","k":"L","x":-11,"y":-34},
{"s":"32-25 lg(θ)","k":"R","x":12,"y":-35},{"s":"32-25 lg(θ)","k":"L","x":-12,"y":-35},
{"s":"32-25 lg(θ)","k":"R","x":14,"y":-36.7},{"s":"32-25 lg(θ)","k":"L","x":-14,"y":-36.7},
{"s":"32-25 lg(θ)","k":"R","x":16,"y":-38.1},{"s":"32-25 lg(θ)","k":"L","x":-16,"y":-38.1},
{"s":"32-25 lg(θ)","k":"R","x":18,"y":-39.4},{"s":"32-25 lg(θ)","k":"L","x":-18,"y":-39.4},
{"s":"32-25 lg(θ)","k":"R","x":20,"y":-40.5},{"s":"32-25 lg(θ)","k":"L","x":-20,"y":-40.5}
],
"f":[
{"s":"方位面","x":0,"y":0},
{"s":"方位面","x":0.26,"y":-4.1},{"s":"方位面","x":-0.26,"y":-4.1},
{"s":"方位面","x":0.5,"y":-11},{"s":"方位面","x":-0.5,"y":-11},
{"s":"方位面","x":0.58,"y":-18},{"s":"方位面","x":-0.58,"y":-18},
{"s":"方位面","x":0.64,"y":-27.2},{"s":"方位面","x":-0.64,"y":-27.2},
{"s":"方位面","x":0.72,"y":-21},{"s":"方位面","x":-0.72,"y":-21},
{"s":"方位面","x":0.83,"y":-18.8},{"s":"方位面","x":-0.83,"y":-18.8},
{"s":"方位面","x":1,"y":-22},{"s":"方位面","x":-1,"y":-22},
{"s":"方位面","x":1.36,"y":-30.4},{"s":"方位面","x":-1.36,"y":-30.4},
{"s":"方位面","x":1.6,"y":-23},{"s":"方位面","x":-1.6,"y":-23},
{"s":"方位面","x":1.85,"y":-20.4},{"s":"方位面","x":-1.85,"y":-20.4},
{"s":"方位面","x":2.1,"y":-21.5},{"s":"方位面","x":-2.1,"y":-21.5},
{"s":"方位面","x":2.34,"y":-24.1},{"s":"方位面","x":-2.34,"y":-24.1},
{"s":"方位面","x":2.55,"y":-32},{"s":"方位面","x":-2.55,"y":-32},
{"s":"方位面","x":2.8,"y":-52.1},{"s":"方位面","x":-2.8,"y":-52.1},
{"s":"方位面","x":2.95,"y":-36},{"s":"方位面","x":-2.95,"y":-36},
{"s":"方位面","x":3.22,"y":-27.7},{"s":"方位面","x":-3.22,"y":-27.7},
{"s":"方位面","x":3.5,"y":-32},{"s":"方位面","x":-3.5,"y":-32},
{"s":"方位面","x":3.8,"y":-38},{"s":"方位面","x":-3.8,"y":-38},
{"s":"方位面","x":4.05,"y":-42.8},{"s":"方位面","x":-4.05,"y":-42.8},
{"s":"方位面","x":4.5,"y":-39.5},{"s":"方位面","x":-4.5,"y":-39.5},
{"s":"方位面","x":4.9,"y":-33},{"s":"方位面","x":-4.9,"y":-33},
{"s":"方位面","x":5.2,"y":-37},{"s":"方位面","x":-5.2,"y":-37},
{"s":"方位面","x":5.6,"y":-38},{"s":"方位面","x":-5.6,"y":-38},
{"s":"方位面","x":6.05,"y":-35.9},{"s":"方位面","x":-6.05,"y":-35.9},
{"s":"方位面","x":6.5,"y":-40.2},{"s":"方位面","x":-6.5,"y":-40.2},
{"s":"方位面","x":6.9,"y":-38.5},{"s":"方位面","x":-6.9,"y":-38.5},
{"s":"方位面","x":7.38,"y":-36.6},{"s":"方位面","x":-7.38,"y":-36.6},
{"s":"方位面","x":7.6,"y":-45},{"s":"方位面","x":-7.6,"y":-45},
{"s":"方位面","x":7.82,"y":-57.9},{"s":"方位面","x":-7.82,"y":-57.9},
{"s":"方位面","x":8.1,"y":-41},{"s":"方位面","x":-8.1,"y":-41},
{"s":"方位面","x":8.45,"y":-42},{"s":"方位面","x":-8.45,"y":-42},
{"s":"方位面","x":8.75,"y":-46.8},{"s":"方位面","x":-8.75,"y":-46.8},
{"s":"方位面","x":9,"y":-40.9},{"s":"方位面","x":-9,"y":-40.9},
{"s":"方位面","x":9.4,"y":-45.5},{"s":"方位面","x":-9.4,"y":-45.5},
{"s":"方位面","x":9.77,"y":-40.3},{"s":"方位面","x":-9.77,"y":-40.3},
{"s":"方位面","x":10.3,"y":-45.7},{"s":"方位面","x":-10.3,"y":-45.7},
{"s":"方位面","x":10.65,"y":-43.7},{"s":"方位面","x":-10.65,"y":-43.7},
{"s":"方位面","x":11.15,"y":-50.3},{"s":"方位面","x":-11.15,"y":-50.3},
{"s":"方位面","x":11.6,"y":-46.6},{"s":"方位面","x":-11.6,"y":-46.6},
{"s":"方位面","x":12.05,"y":-46.8},{"s":"方位面","x":-12.05,"y":-46.8},
{"s":"方位面","x":12.3,"y":-54},{"s":"方位面","x":-12.3,"y":-54},
{"s":"方位面","x":12.7,"y":-59.2},{"s":"方位面","x":-12.7,"y":-59.2},
{"s":"方位面","x":13.1,"y":-58},{"s":"方位面","x":-13.1,"y":-58},
{"s":"方位面","x":13.4,"y":-57},{"s":"方位面","x":-13.4,"y":-57},
{"s":"方位面","x":14,"y":-54.8},{"s":"方位面","x":-14,"y":-54.8},
{"s":"方位面","x":14.5,"y":-55.5},{"s":"方位面","x":-14.5,"y":-55.5},
{"s":"方位面","x":14.9,"y":-66},{"s":"方位面","x":-14.9,"y":-66},
{"s":"方位面","x":15.35,"y":-66},{"s":"方位面","x":-15.35,"y":-66},
{"s":"方位面","x":15.7,"y":-58.8},{"s":"方位面","x":-15.7,"y":-58.8},
{"s":"方位面","x":16,"y":-57},{"s":"方位面","x":-16,"y":-57},
{"s":"方位面","x":16.3,"y":-55},{"s":"方位面","x":-16.3,"y":-55},
{"s":"方位面","x":16.7,"y":-50.8},{"s":"方位面","x":-16.7,"y":-50.8},
{"s":"方位面","x":17.1,"y":-53.9},{"s":"方位面","x":-17.1,"y":-53.9},
{"s":"方位面","x":17.35,"y":-66},{"s":"方位面","x":-17.35,"y":-66},
{"s":"方位面","x":17.9,"y":-61.9},{"s":"方位面","x":-17.9,"y":-61.9},
{"s":"方位面","x":18.1,"y":-66},{"s":"方位面","x":-18.1,"y":-66},
{"s":"方位面","x":18.6,"y":-60.1},{"s":"方位面","x":-18.6,"y":-60.1},
{"s":"方位面","x":19,"y":-58.8},{"s":"方位面","x":-19,"y":-58.8},
{"s":"方位面","x":19.3,"y":-59.5},{"s":"方位面","x":-19.3,"y":-59.5},
{"s":"方位面","x":19.55,"y":-60},{"s":"方位面","x":-19.55,"y":-60},
{"s":"方位面","x":19.8,"y":-61},{"s":"方位面","x":-19.8,"y":-61},
{"s":"方位面","x":20,"y":-66},{"s":"方位面","x":-20,"y":-66},
{"s":"32-25 lg(θ)","k":"R","x":1.05,"y":-16},{"s":"32-25 lg(θ)","k":"L","x":-1.05,"y":-16},
{"s":"32-25 lg(θ)","k":"R","x":1.25,"y":-17.9},{"s":"32-25 lg(θ)","k":"L","x":-1.25,"y":-17.9},
{"s":"32-25 lg(θ)","k":"R","x":1.5,"y":-19.9},{"s":"32-25 lg(θ)","k":"L","x":-1.5,"y":-19.9},
{"s":"32-25 lg(θ)","k":"R","x":2,"y":-23},{"s":"32-25 lg(θ)","k":"L","x":-2,"y":-23},
{"s":"32-25 lg(θ)","k":"R","x":2.5,"y":-25.4},{"s":"32-25 lg(θ)","k":"L","x":-2.5,"y":-25.4},
{"s":"32-25 lg(θ)","k":"R","x":3,"y":-27.4},{"s":"32-25 lg(θ)","k":"L","x":-3,"y":-27.4},
{"s":"32-25 lg(θ)","k":"R","x":3.5,"y":-29.1},{"s":"32-25 lg(θ)","k":"L","x":-3.5,"y":-29.1},
{"s":"32-25 lg(θ)","k":"R","x":4,"y":-30.6},{"s":"32-25 lg(θ)","k":"L","x":-4,"y":-30.6},
{"s":"32-25 lg(θ)","k":"R","x":5,"y":-33},{"s":"32-25 lg(θ)","k":"L","x":-5,"y":-33},
{"s":"32-25 lg(θ)","k":"R","x":6,"y":-35},{"s":"32-25 lg(θ)","k":"L","x":-6,"y":-35},
{"s":"32-25 lg(θ)","k":"R","x":7,"y":-36.6},{"s":"32-25 lg(θ)","k":"L","x":-7,"y":-36.6},
{"s":"32-25 lg(θ)","k":"R","x":8,"y":-38.1},{"s":"32-25 lg(θ)","k":"L","x":-8,"y":-38.1},
{"s":"32-25 lg(θ)","k":"R","x":9,"y":-39.4},{"s":"32-25 lg(θ)","k":"L","x":-9,"y":-39.4},
{"s":"32-25 lg(θ)","k":"R","x":10,"y":-40.5},{"s":"32-25 lg(θ)","k":"L","x":-10,"y":-40.5},
{"s":"32-25 lg(θ)","k":"R","x":11,"y":-41.5},{"s":"32-25 lg(θ)","k":"L","x":-11,"y":-41.5},
{"s":"32-25 lg(θ)","k":"R","x":12,"y":-42.5},{"s":"32-25 lg(θ)","k":"L","x":-12,"y":-42.5},
{"s":"32-25 lg(θ)","k":"R","x":14,"y":-44.2},{"s":"32-25 lg(θ)","k":"L","x":-14,"y":-44.2},
{"s":"32-25 lg(θ)","k":"R","x":16,"y":-45.6},{"s":"32-25 lg(θ)","k":"L","x":-16,"y":-45.6},
{"s":"32-25 lg(θ)","k":"R","x":18,"y":-46.9},{"s":"32-25 lg(θ)","k":"L","x":-18,"y":-46.9},
{"s":"32-25 lg(θ)","k":"R","x":20,"y":-48},{"s":"32-25 lg(θ)","k":"L","x":-20,"y":-48}
]
},
"columns":3,
"spacing":{"row":423,"column":310},
"bounds":"flush",
"concat":[
{"data":{"name":"a"},"width":958,"height":786,
 "title":{"text":"(a) 11.45 GHz方向图","orient":"bottom","offset":58},
 "mark":{"type":"line","clip":true},
 "encoding":{
  "x":{"field":"x","type":"quantitative","scale":{"domain":[-6,6],"nice":false,"zero":false},"axis":{"values":[-6,-4,-2,0,2,4,6],"title":"角度 (°)"}},
  "y":{"field":"y","type":"quantitative","scale":{"domain":[-40,0],"nice":false},"axis":{"values":[-40,-30,-20,-10,0],"title":"归一化增益 (dBi)"}},
  "color":{"field":"s","type":"nominal","scale":{"domain":["俯仰面","45°面","方位面","32-25 lg(θ)"],"range":["#e2183c","#2c2ca0","#000000","#2a8a6c"]},"legend":{"title":null}},
  "strokeDash":{"field":"s","type":"nominal","scale":{"domain":["俯仰面","45°面","方位面","32-25 lg(θ)"],"range":[[26,12,4,12],[26,14],[1,0],[24,14]]},"legend":{"title":null}},
  "strokeWidth":{"field":"s","type":"nominal","scale":{"domain":["俯仰面","45°面","方位面","32-25 lg(θ)"],"range":[3.5,3.5,4.5,4]},"legend":null},
  "detail":{"field":"k"}
 }},
{"data":{"name":"b"},"width":958,"height":786,
 "title":{"text":"(b) 14.5 GHz方向图","orient":"bottom","offset":58},
 "mark":{"type":"line","clip":true},
 "encoding":{
  "x":{"field":"x","type":"quantitative","scale":{"domain":[-6,6],"nice":false,"zero":false},"axis":{"values":[-6,-4,-2,0,2,4,6],"title":"角度 (°)"}},
  "y":{"field":"y","type":"quantitative","scale":{"domain":[-40,0],"nice":false},"axis":{"values":[-40,-30,-20,-10,0],"title":null}},
  "color":{"field":"s","type":"nominal","scale":{"domain":["俯仰面","45°面","方位面","32-25 lg(θ)"],"range":["#e2183c","#2c2ca0","#000000","#2a8a6c"]},"legend":{"title":null}},
  "strokeDash":{"field":"s","type":"nominal","scale":{"domain":["俯仰面","45°面","方位面","32-25 lg(θ)"],"range":[[26,12,4,12],[26,14],[1,0],[24,14]]},"legend":{"title":null}},
  "strokeWidth":{"field":"s","type":"nominal","scale":{"domain":["俯仰面","45°面","方位面","32-25 lg(θ)"],"range":[3.5,3.5,4.5,4]},"legend":null},
  "detail":{"field":"k"}
 }},
{"data":{"name":"c"},"width":958,"height":786,
 "title":{"text":"(c) 17.7 GHz方向图","orient":"bottom","offset":58},
 "mark":{"type":"line","clip":true},
 "encoding":{
  "x":{"field":"x","type":"quantitative","scale":{"domain":[-6,6],"nice":false,"zero":false},"axis":{"values":[-6,-4,-2,0,2,4,6],"title":"角度 (°)"}},
  "y":{"field":"y","type":"quantitative","scale":{"domain":[-40,0],"nice":false},"axis":{"values":[-40,-30,-20,-10,0],"title":null}},
  "color":{"field":"s","type":"nominal","scale":{"domain":["俯仰面","45°面","方位面","32-25 lg(θ)"],"range":["#e2183c","#2c2ca0","#000000","#2a8a6c"]},"legend":{"title":null}},
  "strokeDash":{"field":"s","type":"nominal","scale":{"domain":["俯仰面","45°面","方位面","32-25 lg(θ)"],"range":[[26,12,4,12],[26,14],[1,0],[24,14]]},"legend":{"title":null}},
  "strokeWidth":{"field":"s","type":"nominal","scale":{"domain":["俯仰面","45°面","方位面","32-25 lg(θ)"],"range":[3.5,3.5,4.5,4]},"legend":null},
  "detail":{"field":"k"}
 }},
{"data":{"name":"d"},"width":958,"height":786,
 "title":{"text":"(d) 31 GHz方向图","orient":"bottom","offset":48},
 "mark":{"type":"line","clip":true},
 "encoding":{
  "x":{"field":"x","type":"quantitative","scale":{"domain":[-6,6],"nice":false,"zero":false},"axis":{"values":[-6,-4,-2,0,2,4,6],"title":"角度 (°)","labelPadding":72,"titlePadding":50}},
  "y":{"field":"y","type":"quantitative","scale":{"domain":[-40,0],"nice":false},"axis":{"values":[-40,-30,-20,-10,0],"title":"归一化增益 (dBi)"}},
  "color":{"field":"s","type":"nominal","scale":{"domain":["俯仰面","45°面","方位面","32-25 lg(θ)"],"range":["#e2183c","#2c2ca0","#000000","#2a8a6c"]},"legend":{"title":null}},
  "strokeDash":{"field":"s","type":"nominal","scale":{"domain":["俯仰面","45°面","方位面","32-25 lg(θ)"],"range":[[26,12,4,12],[26,14],[1,0],[24,14]]},"legend":{"title":null}},
  "strokeWidth":{"field":"s","type":"nominal","scale":{"domain":["俯仰面","45°面","方位面","32-25 lg(θ)"],"range":[3.5,3.5,4.5,4]},"legend":null},
  "detail":{"field":"k"}
 }},
{"data":{"name":"e"},"width":958,"height":786,
 "title":{"text":"(e) 14.5 GHz方位面广角方向图","orient":"bottom","offset":48},
 "mark":{"type":"line","clip":true},
 "encoding":{
  "x":{"field":"x","type":"quantitative","scale":{"domain":[-20,20],"nice":false,"zero":false},"axis":{"values":[-20,-10,0,10,20],"title":"角度 (°)","labelPadding":72,"titlePadding":50}},
  "y":{"field":"y","type":"quantitative","scale":{"domain":[-65,0],"nice":false},"axis":{"values":[-60,-40,-20,0],"title":null,"labelExpr":"replace(datum.label, '−', '-')"}},
  "color":{"field":"s","type":"nominal","scale":{"domain":["俯仰面","45°面","方位面","32-25 lg(θ)"],"range":["#e2183c","#2c2ca0","#000000","#2a8a6c"]},"legend":{"title":null}},
  "strokeDash":{"field":"s","type":"nominal","scale":{"domain":["俯仰面","45°面","方位面","32-25 lg(θ)"],"range":[[26,12,4,12],[26,14],[1,0],[24,14]]},"legend":{"title":null}},
  "strokeWidth":{"field":"s","type":"nominal","scale":{"domain":["俯仰面","45°面","方位面","32-25 lg(θ)"],"range":[3.5,3.5,4.5,4]},"legend":null},
  "detail":{"field":"k"}
 }},
{"data":{"name":"f"},"width":958,"height":786,
 "title":{"text":"(f) 31 GHz方位面广角方向图","orient":"bottom","offset":48},
 "mark":{"type":"line","clip":true},
 "encoding":{
  "x":{"field":"x","type":"quantitative","scale":{"domain":[-20,20],"nice":false,"zero":false},"axis":{"values":[-20,-10,0,10,20],"title":"角度 (°)","labelPadding":72,"titlePadding":50}},
  "y":{"field":"y","type":"quantitative","scale":{"domain":[-65,0],"nice":false},"axis":{"values":[-60,-40,-20,0],"title":null,"labelExpr":"replace(datum.label, '−', '-')"}},
  "color":{"field":"s","type":"nominal","scale":{"domain":["俯仰面","45°面","方位面","32-25 lg(θ)"],"range":["#e2183c","#2c2ca0","#000000","#2a8a6c"]},"legend":{"title":null}},
  "strokeDash":{"field":"s","type":"nominal","scale":{"domain":["俯仰面","45°面","方位面","32-25 lg(θ)"],"range":[[26,12,4,12],[26,14],[1,0],[24,14]]},"legend":{"title":null}},
  "strokeWidth":{"field":"s","type":"nominal","scale":{"domain":["俯仰面","45°面","方位面","32-25 lg(θ)"],"range":[3.5,3.5,4.5,4]},"legend":null},
  "detail":{"field":"k"}
 }}
],
"config":{
 "font":"Liberation Serif, Noto Sans CJK SC",
 "view":{"stroke":"#000000","strokeWidth":5},
 "axis":{"domain":false,"grid":true,"gridColor":"#000000","gridDash":[4,14],"gridWidth":3.5,"gridOpacity":1,
  "ticks":true,"tickSize":-14,"tickWidth":4,"tickColor":"#000000",
  "labelFont":"Liberation Serif","labelFontSize":62,"labelColor":"#000000",
  "titleFont":"Liberation Serif, Noto Sans CJK SC","titleFontSize":64,"titleFontWeight":"normal","titleColor":"#000000"},
 "axisX":{"labelPadding":62,"titlePadding":40},
 "axisY":{"labelPadding":55,"titlePadding":62},
 "title":{"font":"Liberation Serif, Noto Sans CJK SC","fontSize":66,"fontWeight":"normal","color":"#000000"},
 "legend":{"orient":"none","legendX":1034,"legendY":2402,"direction":"horizontal","labelFont":"Liberation Serif, Noto Sans CJK SC","labelFontSize":62,"labelColor":"#000000","labelLimit":0,"symbolStrokeWidth":4,"symbolSize":8100,"symbolType":"stroke","columnPadding":62,"labelOffset":14}
}
}
